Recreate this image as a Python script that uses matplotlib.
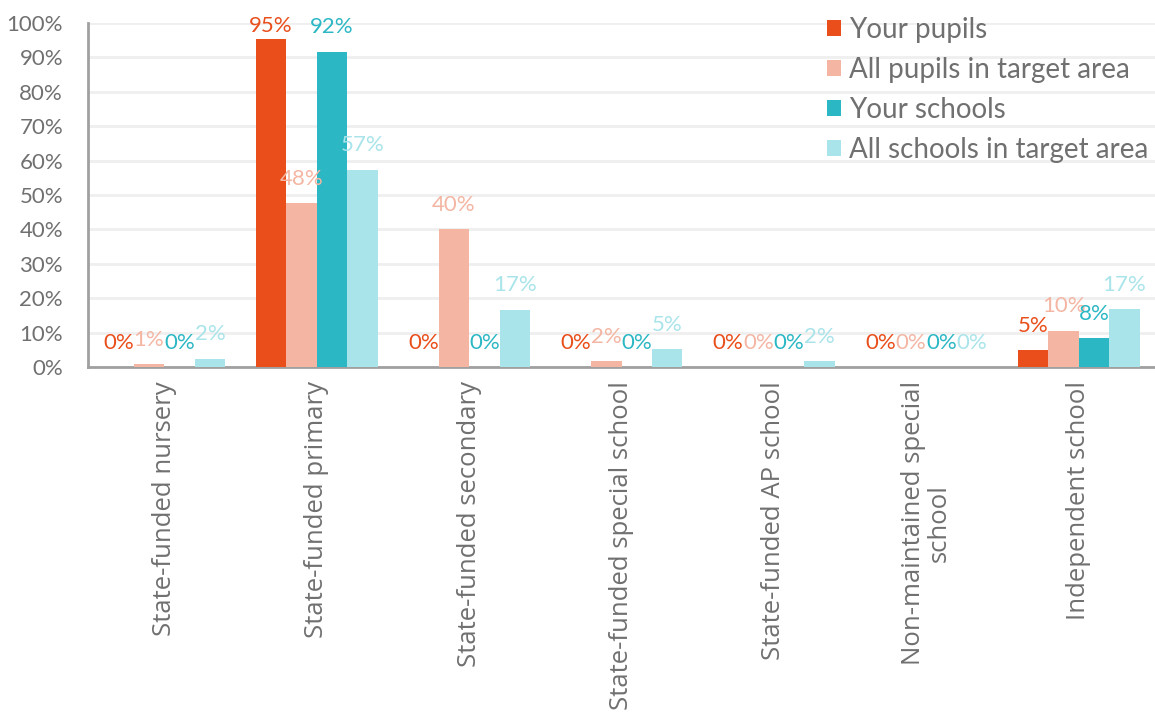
import numpy as np
import matplotlib.pyplot as plt

categories = ['State-funded nursery', 'State-funded primary', 'State-funded secondary',
              'State-funded special school', 'State-funded AP school',
              'Non-maintained special\nschool', 'Independent school']
series = ['Your pupils', 'All pupils in target area', 'Your schools', 'All schools in target area']
your_pupils = [0, 95.3, 0, 0, 0, 0, 4.8]
all_pupils = [0.8, 47.6, 40.0, 1.7, 0, 0, 10.5]
your_schools = [0, 91.7, 0, 0, 0, 0, 8.3]
all_schools = [2.4, 57.4, 16.7, 5.2, 1.6, 0, 16.8]
colors = ['#E94E1B', '#F4B6A3', '#2BB7C4', '#A9E4EA']

values = [your_pupils, all_pupils, your_schools, all_schools]
grey = '#707070'
num_font = 'Lato'

fig = plt.figure(figsize=(11.55, 7.13), dpi=100)
ax = fig.add_axes([88 / 1155, 1 - 367 / 713, 1 - 88 / 1155, 344 / 713])

x = np.arange(len(categories))
w = 0.2
for i, (vals, col, name) in enumerate(zip(values, colors, series)):
    pos = x - 0.3 + i * w
    ax.bar(pos, vals, width=w, color=col, label=name, zorder=3)
    for px, v in zip(pos, vals):
        y = min(v + 4.2, 96.3)
        ax.text(px, y, f'{round(v):.0f}%', ha='center', va='bottom', color=col,
                fontsize=16, family=num_font, zorder=4)

ax.set_xlim(-0.5, len(categories) - 0.5)
ax.set_ylim(0, 100)
ax.set_yticks(range(0, 101, 10))
ax.set_yticklabels([f'{t}%' for t in range(0, 101, 10)], fontsize=16, family=num_font, color=grey)
ax.set_xticks(x)
ax.set_xticklabels(categories, rotation=90, fontsize=18.5, family=['Open Sans', 'DejaVu Sans'],
                   color=grey, va='top', ha='center', multialignment='center',
                   linespacing=1.0)
ax.tick_params(length=0, pad=10)
ax.tick_params(axis='y', pad=18)
ax.grid(axis='y', color='#EFEFEF', linewidth=2, zorder=0)
for s in ['top', 'right']:
    ax.spines[s].set_visible(False)
for s in ['left', 'bottom']:
    ax.spines[s].set_color('#A0A0A0')
    ax.spines[s].set_linewidth(2)

leg = ax.legend(loc='upper right', bbox_to_anchor=(1.017, 1.09), frameon=False,
                prop={'family': num_font, 'size': 20}, labelcolor=grey,
                handlelength=0.5, handleheight=0.5, handletextpad=0.3, labelspacing=0.5)

fig.savefig('out.png', dpi=100)
